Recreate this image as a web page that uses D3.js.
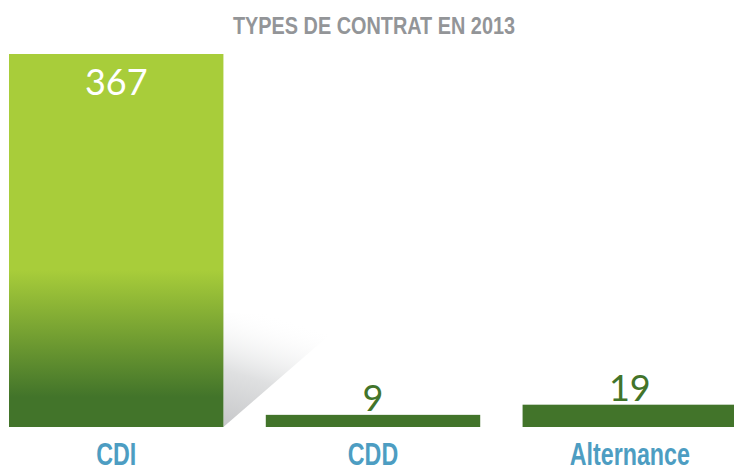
<!DOCTYPE html>
<html>
<head>
<meta charset="utf-8">
<script src="https://cdn.jsdelivr.net/npm/d3@7"></script>
<style>
  body { margin: 0; background: #fff; }
  svg { display: block; }
</style>
</head>
<body>
<div id="chart"></div>
<script>
// data
var categories = ["CDI", "CDD", "Alternance"];
var values = [367, 9, 19];
var title = "TYPES DE CONTRAT EN 2013";

var width = 734, height = 469;
var margin = { top: 54, bottom: 42, left: 9, right: -3 };

var svg = d3.select("#chart").append("svg")
  .attr("width", width)
  .attr("height", height);

var defs = svg.append("defs");

// big bar gradient: flat light green then darker towards the base
var grad = defs.append("linearGradient")
  .attr("id", "barGrad")
  .attr("x1", 0).attr("y1", 0).attr("x2", 0).attr("y2", 1);
grad.append("stop").attr("offset", "0%").attr("stop-color", "#a8cd3a");
grad.append("stop").attr("offset", "58%").attr("stop-color", "#a8cd3a");
grad.append("stop").attr("offset", "92%").attr("stop-color", "#42742a");
grad.append("stop").attr("offset", "100%").attr("stop-color", "#42742a");

var shadowGrad = defs.append("linearGradient")
  .attr("id", "shadowGrad")
  .attr("x1", 0).attr("y1", 1).attr("x2", 0.35).attr("y2", 0);
shadowGrad.append("stop").attr("offset", "0%").attr("stop-color", "#c6c7c9");
shadowGrad.append("stop").attr("offset", "45%").attr("stop-color", "#dfe0e1");
shadowGrad.append("stop").attr("offset", "100%").attr("stop-color", "#ffffff").attr("stop-opacity", 0);

var x = d3.scaleBand()
  .domain(categories)
  .range([margin.left, width - margin.right])
  .paddingInner(0.165)
  .paddingOuter(0);

var y = d3.scaleLinear()
  .domain([0, 367])
  .range([height - margin.bottom, margin.top]);

var narrow = "'Liberation Sans', Arial, sans-serif";

// title
svg.append("text")
  .attr("x", 374)
  .attr("y", 34)
  .attr("text-anchor", "middle")
  .attr("textLength", 282)
  .attr("lengthAdjust", "spacingAndGlyphs")
  .style("font-family", narrow)
  .style("font-weight", "bold")
  .style("font-size", "23px")
  .style("fill", "#939598")
  .text(title);

// shadow behind the big bar
var bx = x("CDI") + x.bandwidth();
var base = y(0);
svg.append("path")
  .attr("d", "M" + bx + "," + base +
             " L" + bx + "," + y(112) +
             " L" + (bx + 131) + "," + y(112) +
             " Z")
  .attr("fill", "url(#shadowGrad)");

// bars
svg.append("g")
  .selectAll("rect")
  .data(values)
  .enter()
  .append("rect")
    .attr("x", function(d, i) { return x(categories[i]); })
    .attr("y", function(d) { return y(d) - (d < 100 ? 3 : 0); })
    .attr("width", x.bandwidth())
    .attr("height", function(d) { return base - y(d) + (d < 100 ? 3 : 0); })
    .attr("fill", function(d) { return d > 100 ? "url(#barGrad)" : "#42742a"; });

// value labels
svg.append("g")
  .selectAll("text")
  .data(values)
  .enter()
  .append("text")
    .attr("x", function(d, i) { return x(categories[i]) + x.bandwidth() / 2; })
    .attr("y", function(d) { return d > 100 ? y(d) + 41 : y(d) - 7; })
    .attr("text-anchor", "middle")
    .style("font-family", "'Lato', 'Noto Sans', sans-serif")
    .style("font-size", "36px")
    .style("fill", function(d) { return d > 100 ? "#ffffff" : "#42742a"; })
    .text(function(d) { return d; });

// category labels, squeezed to look condensed
svg.append("g")
  .selectAll("text")
  .data(categories)
  .enter()
  .append("text")
    .attr("transform", function(d) {
      return "translate(" + (x(d) + x.bandwidth() / 2) + ",465) scale(0.75,1)";
    })
    .attr("text-anchor", "middle")
    .style("font-family", narrow)
    .style("font-weight", "bold")
    .style("font-size", "31px")
    .style("fill", "#4d9dc2")
    .text(function(d) { return d; });
</script>
</body>
</html>
